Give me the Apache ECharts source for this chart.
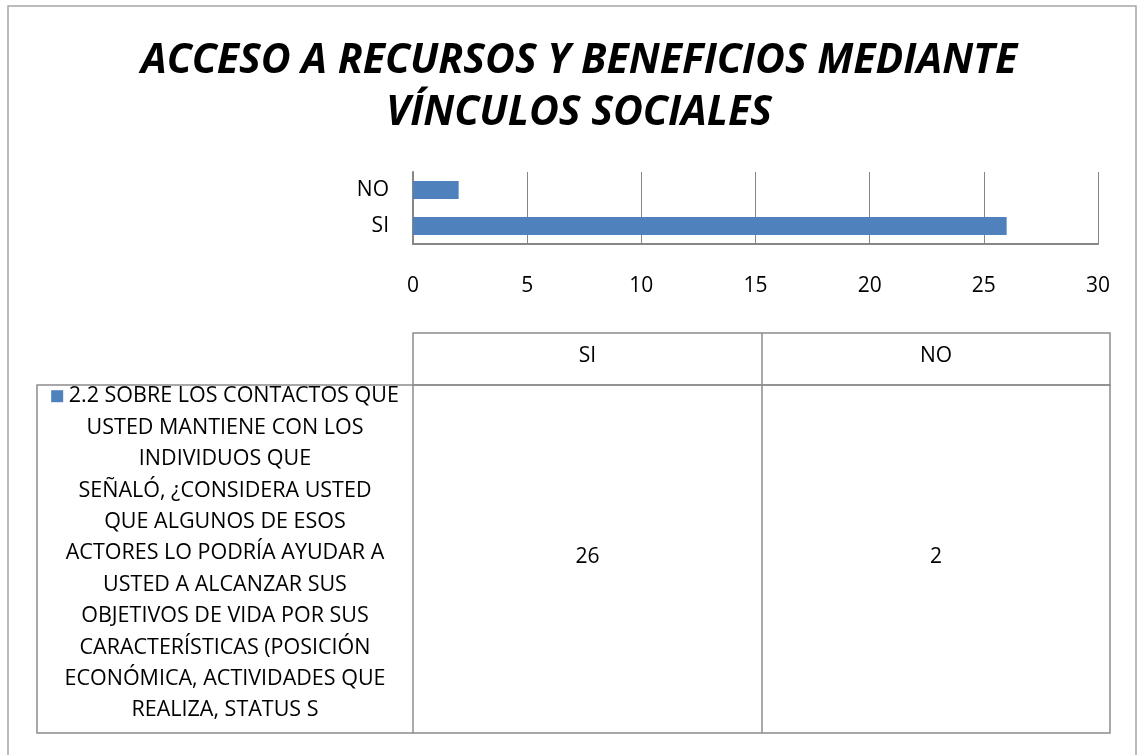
<!DOCTYPE html>
<html>
<head>
<meta charset="utf-8">
<script src="https://cdn.jsdelivr.net/npm/echarts@6/dist/echarts.min.js"></script>
<style>
  html, body { margin: 0; padding: 0; background: #fff; }
  #chart { width: 1138px; height: 755px; }
</style>
</head>
<body>
<div id="chart"></div>
<script>
// datos del grafico
var titleLines = ['ACCESO A RECURSOS Y BENEFICIOS MEDIANTE', 'VÍNCULOS SOCIALES'];
var categories = ['SI', 'NO'];
var values = [26, 2];
var xTicks = [0, 5, 10, 15, 20, 25, 30];
// nombre de la serie, tal como aparece partido en la tabla
var seriesNameLines = [
  '2.2 SOBRE LOS CONTACTOS QUE',
  'USTED MANTIENE CON LOS',
  'INDIVIDUOS QUE',
  'SEÑALÓ, ¿CONSIDERA USTED',
  'QUE ALGUNOS DE ESOS',
  'ACTORES LO PODRÍA AYUDAR A',
  'USTED A ALCANZAR SUS',
  'OBJETIVOS DE VIDA POR SUS',
  'CARACTERÍSTICAS (POSICIÓN',
  'ECONÓMICA, ACTIVIDADES QUE',
  'REALIZA, STATUS S'
];

var FONT = 'Open Sans';
var BLUE = '#4f81bd';
var GRID = '#868686';
var FS = 21;

var chartDom = document.getElementById('chart');
var myChart = echarts.init(chartDom);

var gridLeft = 413, gridRight = 1098, gridTop = 172, gridBottom = 244;

var option = {
  backgroundColor: '#fff',
  animation: false,
  title: {
    text: titleLines.join('\n'),
    left: 574,
    top: 30,
    textAlign: 'center',
    textStyle: {
      fontFamily: FONT,
      fontSize: 41,
      fontWeight: 'bold',
      fontStyle: 'italic',
      color: '#000',
      lineHeight: 52
    }
  },
  grid: {
    left: gridLeft,
    right: 1138 - gridRight,
    top: gridTop,
    height: gridBottom - gridTop,
    containLabel: false
  },
  xAxis: {
    type: 'value',
    min: xTicks[0],
    max: xTicks[xTicks.length - 1],
    interval: xTicks[1] - xTicks[0],
    axisLine: { show: true, lineStyle: { color: GRID, width: 2 } },
    axisTick: { show: false },
    splitLine: { show: true, lineStyle: { color: GRID, width: 1 } },
    axisLabel: { margin: 32, fontFamily: FONT, fontSize: FS, color: '#000' }
  },
  yAxis: {
    type: 'category',
    data: categories,
    axisLine: { show: true, lineStyle: { color: GRID, width: 2 } },
    axisTick: { show: false },
    axisLabel: { margin: 24, fontFamily: FONT, fontSize: FS, color: '#000' }
  },
  series: [{
    name: seriesNameLines.join(' '),
    type: 'bar',
    data: values,
    barWidth: 18,
    itemStyle: { color: BLUE }
  }],
  graphic: []
};

myChart.setOption(option);

// tabla de datos debajo del grafico
var tL = 37, tC0 = 413, tC1 = 762, tR = 1110;
var hTop = 333, hBot = 385, rBot = 733;
var border = { stroke: '#8c8c8c', lineWidth: 1.5, fill: null };
var colX = [(tC0 + tC1) / 2, (tC1 + tR) / 2];
var g = [
  { type: 'rect', shape: { x: 8, y: 6, width: 1128, height: 760 }, style: { stroke: '#a6a6a6', lineWidth: 1.5, fill: null }, silent: true },
  { type: 'rect', shape: { x: tC0, y: hTop, width: tR - tC0, height: hBot - hTop }, style: border },
  { type: 'rect', shape: { x: tL, y: hBot, width: tR - tL, height: rBot - hBot }, style: border },
  { type: 'line', shape: { x1: tC0, y1: hBot, x2: tC0, y2: rBot }, style: { stroke: '#8c8c8c', lineWidth: 1.5 } },
  { type: 'line', shape: { x1: tC1, y1: hTop, x2: tC1, y2: rBot }, style: { stroke: '#8c8c8c', lineWidth: 1.5 } }
];
categories.forEach(function (c, i) {
  g.push({ type: 'text', x: colX[i], y: 356, style: { text: c, fontFamily: FONT, fontSize: FS, fill: '#000', align: 'center', verticalAlign: 'middle' } });
  g.push({ type: 'text', x: colX[i], y: 557, style: { text: String(values[i]), fontFamily: FONT, fontSize: FS, fill: '#000', align: 'center', verticalAlign: 'middle' } });
});
var nameText = seriesNameLines.map(function (l, i) { return i === 0 ? '{m|}' + ' ' + l : l; }).join('\n');
g.push({
  type: 'text', x: (tL + tC0) / 2, y: 380.5,
  style: {
    text: nameText, fontFamily: FONT, fontSize: 21.5, fill: '#000', align: 'center', verticalAlign: 'top', lineHeight: 31.4,
    rich: { m: { width: 12, height: 12, backgroundColor: BLUE } }
  }
});
myChart.setOption({ graphic: g });
</script>
</body>
</html>
